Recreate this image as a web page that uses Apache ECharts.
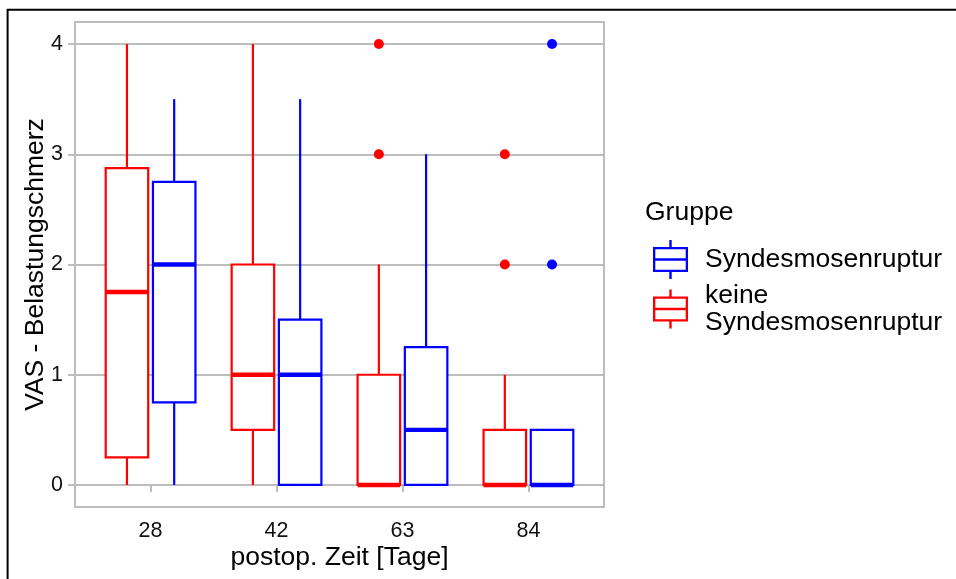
<!DOCTYPE html>
<html>
<head>
<meta charset="utf-8">
<script src="https://cdn.jsdelivr.net/npm/echarts@6/dist/echarts.min.js"></script>
<style>
  html, body { margin: 0; padding: 0; background: #fff; }
  #chart { width: 956px; height: 579px; }
</style>
</head>
<body>
<div id="chart"></div>
<script>
// Postoperative day categories and y tick values
const days = ['28', '42', '63', '84'];
const yTicks = [0, 1, 2, 3, 4];

// Box summaries per day: [lower whisker, Q1, median, Q3, upper whisker]
const keineStats = [
  [0, 0.25, 1.75, 2.875, 4],
  [0, 0.5, 1, 2, 4],
  [0, 0, 0, 1, 2],
  [0, 0, 0, 0.5, 1]
];
const syndStats = [
  [0, 0.75, 2, 2.75, 3.5],
  [0, 0, 1, 1.5, 3.5],
  [0, 0, 0.5, 1.25, 3],
  [0, 0, 0, 0.5, 0.5]
];
// Outlying values per day
const keineOutliers = [[], [], [3, 4], [2, 3]];
const syndOutliers = [[], [], [], [2, 4]];

const nameSynd = 'Syndesmosenruptur';
const nameKeine = 'keine\nSyndesmosenruptur';

const FONT = '"Liberation Sans", Arial, sans-serif';
const RED = '#ff0000';
const BLUE = '#0000ff';
const GRID = '#bdbdbd';
const DODGE = 0.1875;   // half of the dodge width
const BOX_W = 0.3375;   // box width in category units

// Box-and-whisker glyph for the legend keys (outline drawn as a filled ring)
const KEY_ICON = 'path://' +
  'M0 7L35 7L35 32L0 32Z' +
  'M2.3 9.3L2.3 29.7L32.7 29.7L32.7 9.3Z' +
  'M2 18.3L33 18.3L33 20.7L2 20.7Z' +
  'M16.3 0L18.7 0L18.7 7L16.3 7Z' +
  'M16.3 32L18.7 32L18.7 39L16.3 39Z';

function boxRenderer(color, offset, outliers) {
  return function (params, api) {
    const x = api.value(0) + offset;
    const lo = api.coord([x, api.value(1)]);
    const q1 = api.coord([x, api.value(2)]);
    const med = api.coord([x, api.value(3)]);
    const q3 = api.coord([x, api.value(4)]);
    const hi = api.coord([x, api.value(5)]);
    const half = api.size([BOX_W, 0])[0] / 2;
    const cx = q1[0];
    const children = [];
    if (hi[1] < q3[1]) {
      children.push({ type: 'line', shape: { x1: cx, y1: hi[1], x2: cx, y2: q3[1] },
        style: { stroke: color, lineWidth: 2.2 } });
    }
    if (lo[1] > q1[1]) {
      children.push({ type: 'line', shape: { x1: cx, y1: q1[1], x2: cx, y2: lo[1] },
        style: { stroke: color, lineWidth: 2.2 } });
    }
    children.push({ type: 'rect',
      shape: { x: cx - half, y: q3[1], width: 2 * half, height: q1[1] - q3[1] },
      style: { stroke: color, lineWidth: 2.2, fill: '#fff' } });
    children.push({ type: 'line',
      shape: { x1: cx - half, y1: med[1], x2: cx + half, y2: med[1] },
      style: { stroke: color, lineWidth: 4.4 } });
    (outliers[params.dataIndex] || []).forEach(function (v) {
      const p = api.coord([x, v]);
      children.push({ type: 'circle', shape: { cx: p[0], cy: p[1], r: 5 },
        style: { fill: color } });
    });
    return { type: 'group', children: children };
  };
}

const chart = echarts.init(document.getElementById('chart'), null, { renderer: 'canvas' });

chart.setOption({
  animation: false,
  backgroundColor: '#fff',
  textStyle: { fontFamily: FONT },
  grid: {
    left: 75, right: 352, top: 22, bottom: 72,
    show: true, borderColor: GRID, borderWidth: 2, backgroundColor: 'transparent'
  },
  xAxis: {
    type: 'value', min: 0.4, max: 4.6,
    axisLine: { show: false },
    splitLine: { show: false },
    axisTick: { show: true, length: 7, customValues: [1, 2, 3, 4],
      lineStyle: { color: GRID, width: 2 } },
    axisLabel: { customValues: [1, 2, 3, 4], margin: 13,
      formatter: function (v) { return days[Math.round(v) - 1]; },
      fontFamily: FONT, fontSize: 21.5, color: '#111' },
    name: 'postop. Zeit [Tage]', nameLocation: 'middle', nameGap: 37,
    nameMoveOverlap: false,
    nameTextStyle: { fontFamily: FONT, fontSize: 26.5, color: '#000' }
  },
  yAxis: {
    type: 'value', min: -0.2, max: 4.2,
    axisLine: { show: false },
    axisTick: { show: true, length: 7, customValues: yTicks,
      lineStyle: { color: GRID, width: 2 } },
    axisLabel: { customValues: yTicks, margin: 12,
      fontFamily: FONT, fontSize: 21.5, color: '#111' },
    splitLine: { show: true, lineStyle: { color: GRID, width: 2 } },
    name: 'VAS - Belastungschmerz', nameLocation: 'middle', nameGap: 26,
    nameMoveOverlap: false,
    nameTextStyle: { fontFamily: FONT, fontSize: 26.5, color: '#000' }
  },
  legend: {
    orient: 'vertical', left: 648, top: 235,
    itemWidth: 35, itemHeight: 39, itemGap: 3,
    selectedMode: false,
    data: [
      { name: nameSynd, icon: KEY_ICON, itemStyle: { color: BLUE, borderWidth: 0 } },
      { name: nameKeine, icon: KEY_ICON, itemStyle: { color: RED, borderWidth: 0 } }
    ],
    textStyle: { fontFamily: FONT, fontSize: 26.5, color: '#000', lineHeight: 27,
      padding: [0, 0, 0, 12] }
  },
  graphic: [
    { type: 'text', left: 645, top: 199,
      style: { text: 'Gruppe', font: '26.5px ' + FONT, fill: '#000' } },
    { type: 'line', shape: { x1: 7, y1: 9.8, x2: 956, y2: 9.8 },
      style: { stroke: '#000', lineWidth: 2 } },
    { type: 'line', shape: { x1: 7.6, y1: 9, x2: 7.6, y2: 579 },
      style: { stroke: '#000', lineWidth: 2 } }
  ],
  series: [
    {
      type: 'custom', name: nameKeine,
      itemStyle: { color: RED },
      renderItem: boxRenderer(RED, -DODGE, keineOutliers),
      encode: { x: 0, y: [1, 2, 3, 4, 5] },
      data: keineStats.map(function (s, i) { return [i + 1].concat(s); })
    },
    {
      type: 'custom', name: nameSynd,
      itemStyle: { color: BLUE },
      renderItem: boxRenderer(BLUE, DODGE, syndOutliers),
      encode: { x: 0, y: [1, 2, 3, 4, 5] },
      data: syndStats.map(function (s, i) { return [i + 1].concat(s); })
    }
  ]
});
</script>
</body>
</html>
